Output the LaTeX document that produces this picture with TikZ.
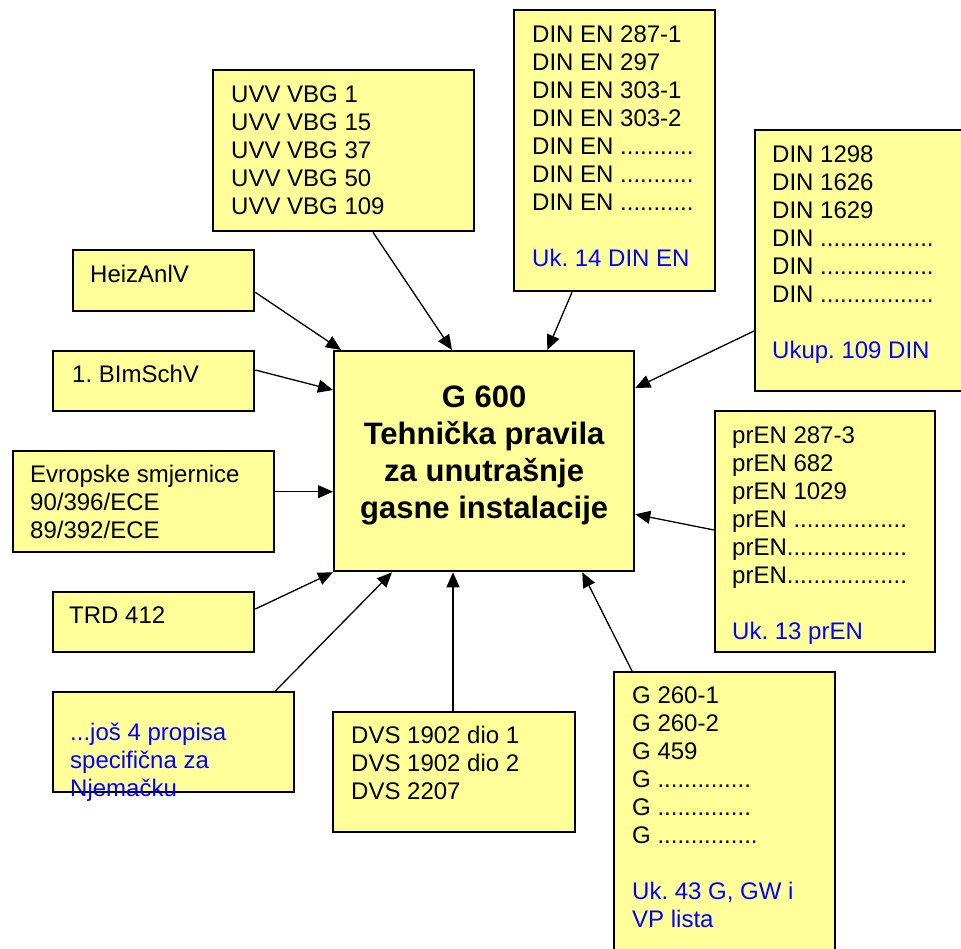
\documentclass[tikz,border=0pt]{standalone}
\usepackage{fontspec}
\setmainfont{Liberation Sans}
\usetikzlibrary{arrows.meta}
\frenchspacing
\definecolor{boxyellow}{HTML}{FFFF99}
\definecolor{noteblue}{HTML}{0000FF}
\newcommand\bxt[1]{\parbox[t]{9cm}{\fontsize{24}{28}\selectfont\raggedright\frenchspacing #1}}
\tikzset{
  box/.style={draw=black, line width=2.3pt, fill=boxyellow, rectangle, inner sep=0pt, anchor=north west},
  txt/.style={inner sep=0pt, anchor=base west},
  arr/.style={line width=1.3pt, -{Triangle[length=15pt,width=13pt]}},
}
\begin{document}
\begin{tikzpicture}[x=1pt,y=-1pt]
\useasboundingbox (0,0) rectangle (961,948);
\clip (0,0) rectangle (961,948);
\fill[white] (0,0) rectangle (961,948);

% main box
\node[box, minimum width=300pt, minimum height=220pt] (g600) at (333,350) {};
\node[inner sep=0pt, anchor=base] (g600T) at ([yshift=-57pt]g600.north)
  {\parbox[t]{300pt}{\centering\bfseries\fontsize{31}{37}\selectfont G 600\\Tehnička pravila\\za unutrašnje\\gasne instalacije}};

% surrounding boxes
\node[box, minimum width=261pt, minimum height=161pt] (uvv) at (212,69) {};
\node[txt] (uvvT) at ([xshift=19pt,yshift=-33pt]uvv.north west)
  {\bxt{UVV VBG 1\\UVV VBG 15\\UVV VBG 37\\UVV VBG 50\\UVV VBG 109}};

\node[box, minimum width=201pt, minimum height=281pt] (dinen) at (513,9) {};
\node[txt] (dinenT) at ([xshift=19pt,yshift=-33pt]dinen.north west)
  {\bxt{DIN EN 287-1\\DIN EN 297\\DIN EN 303-1\\DIN EN 303-2\\DIN EN ...........\\DIN EN ...........\\DIN EN ...........\\\mbox{}\\\textcolor{noteblue}{Uk. 14 DIN EN}}};

\node[box, minimum width=240pt, minimum height=261pt] (din) at (754,129) {};
\node[txt] (dinT) at ([xshift=18pt,yshift=-33pt]din.north west)
  {\bxt{DIN 1298\\DIN 1626\\DIN 1629\\DIN .................\\DIN .................\\DIN .................\\\mbox{}\\\textcolor{noteblue}{Ukup. 109 DIN}}};

\node[box, minimum width=181pt, minimum height=61pt] (heiz) at (72,249) {};
\node[txt] (heizT) at ([xshift=18pt,yshift=-33pt]heiz.north west) {\bxt{HeizAnlV}};

\node[box, minimum width=201pt, minimum height=60pt] (bimsch) at (52,350) {};
\node[txt] (bimschT) at ([xshift=20pt,yshift=-32pt]bimsch.north west) {\bxt{1. BImSchV}};

\node[box, minimum width=261pt, minimum height=101pt] (evro) at (12,450) {};
\node[txt] (evroT) at ([xshift=18pt,yshift=-32pt]evro.north west)
  {\bxt{Evropske smjernice\\90/396/ECE\\89/392/ECE}};

\node[box, minimum width=201pt, minimum height=60pt] (trd) at (52,591) {};
\node[txt] (trdT) at ([xshift=17pt,yshift=-32pt]trd.north west) {\bxt{TRD 412}};

\node[box, minimum width=241pt, minimum height=100pt] (jos) at (52,691) {};
\node[txt] (josT) at ([xshift=18pt,yshift=-32pt]jos.north west)
  {\bxt{\color{noteblue}...još 4 propisa\\specifična za\\Njemačku}};

\node[box, minimum width=242pt, minimum height=120pt] (dvs) at (332,711) {};
\node[txt] (dvsT) at ([xshift=19pt,yshift=-32pt]dvs.north west)
  {\bxt{DVS 1902 dio 1\\DVS 1902 dio 2\\DVS 2207}};

\node[box, minimum width=221pt, minimum height=300pt] (gbox) at (613,671) {};
\node[txt] (gboxT) at ([xshift=19pt,yshift=-32pt]gbox.north west)
  {\bxt{G 260-1\\G 260-2\\G 459\\G ..............\\G ..............\\G ...............\\\mbox{}\\\color{noteblue}Uk. 43 G, GW i\\VP lista}};

\node[box, minimum width=220pt, minimum height=241pt] (pren) at (714,410) {};
\node[txt] (prenT) at ([xshift=18pt,yshift=-33pt]pren.north west)
  {\bxt{prEN 287-3\\prEN 682\\prEN 1029\\prEN .................\\prEN..................\\prEN..................\\\mbox{}\\\textcolor{noteblue}{Uk. 13 prEN}}};

% connectors
\draw[arr] ([yshift=20pt]heiz.south east) -- ([xshift=8pt]g600.north west);
\draw[arr] ([yshift=-20pt]bimsch.north east) -- ([yshift=-40pt]g600.north west);
\path ([yshift=10pt]evro.east) coordinate (evroOut);
\draw[arr] (evroOut) -- (evroOut -| g600.west);
\draw[arr] ([yshift=-18pt]trd.north east) -- (g600.south west);
\draw[arr] ([xshift=-20pt]jos.north east) -- ([xshift=59pt]g600.south west);
\path ([xshift=121pt]dvs.north west) coordinate (dvsOut);
\draw[arr] (dvsOut) -- (dvsOut |- g600.south);
\draw[arr] ([xshift=19pt]gbox.north west) -- ([xshift=-53pt]g600.south east);
\draw[arr] ([yshift=-120pt]pren.north west) -- ([yshift=58pt]g600.south east);
\draw[arr] ([yshift=-202pt]din.north west) -- ([yshift=-38pt]g600.north east);
\draw[arr] ([xshift=59pt]dinen.south west) -- ([xshift=-88pt]g600.north east);
\draw[arr] ([xshift=161pt]uvv.south west) -- ([xshift=119pt]g600.north west);
\end{tikzpicture}
\end{document}
